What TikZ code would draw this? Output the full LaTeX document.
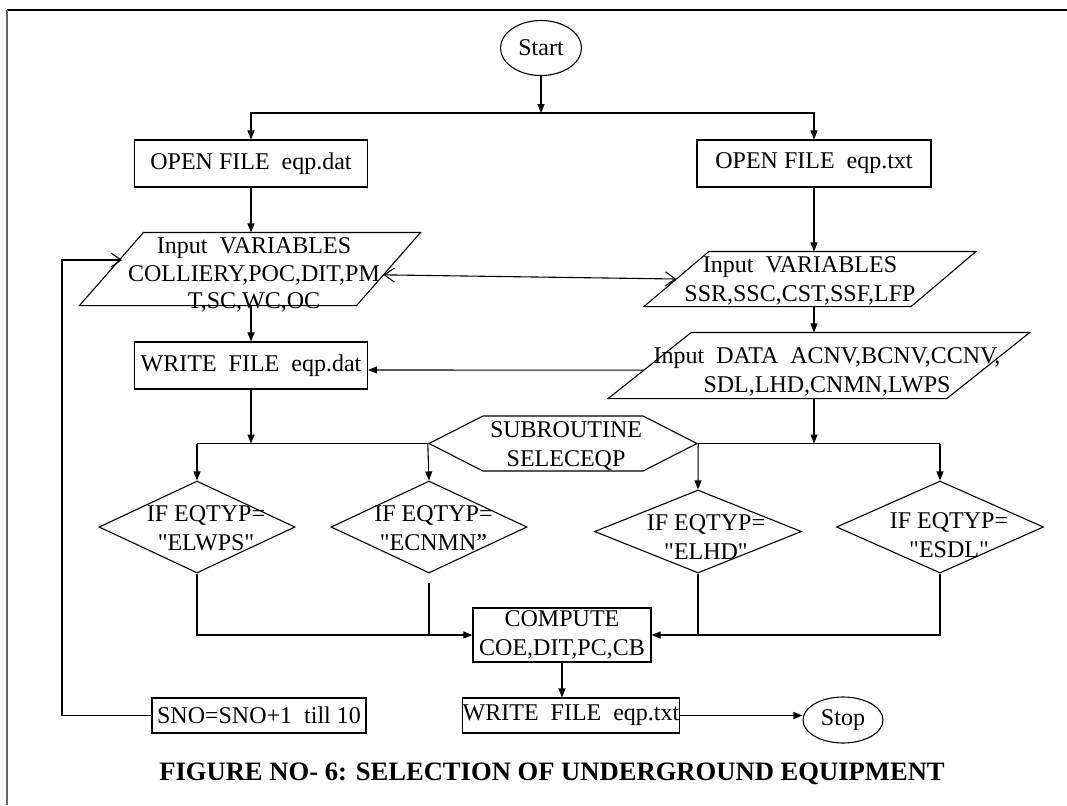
\documentclass[tikz,border=0pt]{standalone}
\usepackage{fontspec}
\newfontfamily\chartfont{Liberation Serif}
\usetikzlibrary{shapes.geometric,shapes.symbols,arrows.meta,calc}

\tikzset{
  every node/.style={font=\chartfont\fontsize{12}{14.5}\selectfont},
  proc/.style={draw, rectangle, inner sep=0pt, align=center},
  io/.style={rectangle, inner sep=0pt},
  decide/.style={draw, diamond, inner sep=0pt, minimum width=98pt, minimum height=46pt},
  sub/.style={draw, signal, signal to=east and west, inner sep=1pt},
  term/.style={draw, ellipse, inner sep=0pt},
  lbl/.style={align=center, inner sep=0pt},
  arr/.style={-{Triangle[length=4.5pt,width=3.5pt]}},
  back/.style={-{Straight Barb[length=5pt,width=7pt]}},
  dbl/.style={{Straight Barb[length=5pt,width=7pt]}-{Straight Barb[length=5pt,width=7pt]}},
}

\begin{document}
\begin{tikzpicture}[x=0.5pt, y=-0.5pt, line width=0.55pt]
  \useasboundingbox (0,0) rectangle (1067,805);
  % frame
  \draw (7,10) -- (1067,10);
  \draw[black!60] (7,10) -- (7,805);

  \node[term, minimum width=40.5pt, minimum height=27.5pt] (start) at (541,48) {Start};
  \node[proc, minimum width=116.5pt, minimum height=23.5pt] (open1) at (251,163.5) {OPEN FILE\ \ eqp.dat};
  \node[proc, minimum width=117pt, minimum height=23.5pt] (open2) at (814,163.5) {OPEN FILE\ \ eqp.txt};

  % input boxes (parallelograms drawn round a plain body)
  \node[io, minimum width=138pt, minimum height=36pt,
    label={[lbl, xshift=2pt, yshift=-3pt, font=\chartfont\fontsize{12}{13.75}\selectfont]center:{Input\ \ VARIABLES\\COLLIERY,POC,DIT,PM\\T,SC,WC,OC}}] (in1) at (250,269) {};
  \draw ([xshift=-16pt]in1.south west) -- ([xshift=-16pt]in1.south east)
    -- ([xshift=16pt]in1.north east) -- ([xshift=16pt]in1.north west) -- cycle;
  \node[io, minimum width=133pt, minimum height=27pt,
    label={[lbl, xshift=-5pt, yshift=-1pt]center:{Input\ \ VARIABLES\\SSR,SSC,CST,SSF,LFP}}] (in2) at (810,279) {};
  \draw ([xshift=-16.25pt]in2.south west) -- ([xshift=-16.25pt]in2.south east)
    -- ([xshift=16.25pt]in2.north east) -- ([xshift=16.25pt]in2.north west) -- cycle;

  \node[proc, minimum width=116.5pt, minimum height=23.5pt] (write1) at (251,365.5) {WRITE\ \ FILE\ \ eqp.dat};
  \node[io, minimum width=168.75pt, minimum height=32.5pt,
    label={[lbl, xshift=4pt, yshift=-3pt]center:{Input\ \ DATA\ \ ACNV,BCNV,CCNV,\\SDL,LHD,CNMN,LWPS}}] (in3) at (819,365.5) {};
  \draw ([xshift=-20.75pt]in3.south west) -- ([xshift=-20.75pt]in3.south east)
    -- ([xshift=20.75pt]in3.north east) -- ([xshift=20.75pt]in3.north west) -- cycle;

  \node[sub, minimum width=134pt, minimum height=27.5pt, signal pointer angle=54,
    label={[lbl, xshift=1.5pt, yshift=-1pt]center:{SUBROUTINE\\SELECEQP}}] (sr) at (563,443.5) {};

  \node[decide, label={[lbl, xshift=4.5pt, yshift=-0.75pt]center:{IF EQTYP=\\"ELWPS"}}] (d1) at (197,527) {};
  \node[decide, label={[lbl, xshift=2.25pt, yshift=-0.75pt]center:{IF EQTYP=\\"ECNMN”}}] (d2) at (429,527) {};
  \node[decide, minimum width=103.5pt, minimum height=41.5pt,
    label={[lbl, xshift=4pt, yshift=-3pt]center:{IF EQTYP=\\"ELHD"}}] (d3) at (698,531.5) {};
  \node[decide, minimum width=103.5pt,
    label={[lbl, xshift=4.5pt, yshift=-4pt]center:{IF EQTYP=\\"ESDL"}}] (d4) at (940,527) {};

  \node[proc, minimum width=89pt, minimum height=27pt] (comp) at (562,635) {COMPUTE\\COE,DIT,PC,CB};
  \node[proc, minimum width=107pt, minimum height=17.5pt] (sno) at (259,715.5) {SNO=SNO+1\ \ till 10};
  \node[proc, minimum width=107pt, minimum height=17.5pt] (write2) at (571,715.5) {WRITE\ \ FILE\ \ eqp.txt};
  \node[term, minimum width=40pt, minimum height=23pt] (stop) at (843,720) {Stop};

  \node[font=\chartfont\fontsize{13.3}{16}\selectfont\bfseries] (cap) at (552,774) {FIGURE NO- 6: SELECTION OF UNDERGROUND EQUIPMENT};

  % connectors
  \coordinate (split) at (541,113);
  \draw[arr] (start) -- (split);
  \draw[arr] (split) -| (open1.north);
  \draw[arr] (split) -| (open2.north);
  \draw[arr] (open1.south) -- (open1.south |- in1.north);
  \draw[arr] (open2.south) -- (open2.south |- in2.north);
  \draw[dbl] ($([xshift=16pt]in1.north east)!.58!([xshift=-16pt]in1.south east)$)
    -- (in2.west);
  \draw[arr] (write1.north |- in1.south) -- (write1.north);
  \draw[arr] (open2.south |- in2.south) -- (open2.south |- in3.north);
  \draw[arr] ($([xshift=20.75pt]in3.north west)!.57!([xshift=-20.75pt]in3.south west)$) -- (write1.east |- 0,370);

  \draw[arr] (write1.south) -- (write1.south |- sr.west);
  \draw (d1.north |- sr.west) -- (sr.west);
  \draw[arr] (d1.north |- sr.west) -- (d1.north);
  \draw[arr] (sr.west) -- (d2.north);
  \draw[arr] (open2.south |- in3.south) -- (open2.south |- sr.east);
  \draw (sr.east) -- (d4.north |- sr.east);
  \draw[arr] (sr.east) -- (d3.north);
  \draw[arr] (d4.north |- sr.east) -- (d4.north);

  \draw[arr] (d1.south) |- (comp.west);
  \draw ([yshift=-4.5pt]d2.south) -- (d2.south |- comp.west);
  \draw[arr] (d4.south) |- (comp.east);
  \draw (d3.south) -- (d3.south |- comp.east);

  \draw[arr] (comp.south) -- (comp.south |- write2.north);
  \draw[arr] (write2.east) -- (write2.east -| stop.west);

  \coordinate (ltop) at (62,260);
  \coordinate (lend) at (122,260);
  \draw[back] (sno.west) -| (ltop) -- (lend);
\end{tikzpicture}
\end{document}
